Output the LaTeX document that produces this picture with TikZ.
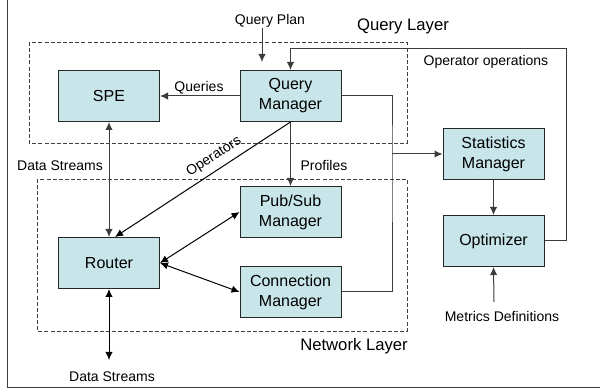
\documentclass[tikz,border=0pt]{standalone}
\usepackage{fontspec}
\setmainfont{Liberation Sans}
\usetikzlibrary{arrows.meta}
\usetikzlibrary{calc}

\definecolor{boxfill}{RGB}{200,230,233}
\definecolor{linegray}{RGB}{60,60,60}

\begin{document}
\begin{tikzpicture}[x=0.75pt,y=0.75pt,yscale=-1,xscale=1,
  block/.style={draw=black!85, fill=boxfill, line width=0.75pt, minimum width=75.75pt, minimum height=38.25pt, align=center, inner sep=0.75pt, font=\fontsize{12}{15}\selectfont},
  layer/.style={draw=black!75, dash pattern=on 3pt off 1.6pt, line width=0.6pt},
  lbl/.style={inner sep=0.75pt, font=\fontsize{10.5}{12}\selectfont},
  laylbl/.style={inner sep=0.75pt, font=\fontsize{12.5}{15}\selectfont},
  conn/.style={draw=linegray, line width=0.75pt},
  arr/.style={conn, -{Latex[length=6pt,width=5.5pt]}},
  darr/.style={conn, {Latex[length=6pt,width=5.5pt]}-{Latex[length=6pt,width=5.5pt]}}]
\useasboundingbox (0,0) rectangle (600,391);

%Shape: Frame
\draw [linegray, line width=0.75pt] (7.5,0) -- (7.5,388) -- (600,388) ;

%Shape: Query Layer
\draw [layer] (29,42) rectangle (407,143) ;
%Shape: Network Layer
\draw [layer] (37,179) rectangle (407,331) ;

%Blocks
\node [block] (spe) at (109,96) {SPE};
\node [block] (qm) at (290.5,96) {Query\\Manager};
\node [block] (ps) at (290.5,212) {Pub/Sub\\Manager};
\node [block] (cm) at (290.5,292) {Connection\\Manager};
\node [block] (router) at (109,263) {Router};
\node [block] (sm) at (493.5,154) {Statistics\\Manager};
\node [block] (opt) at (493.5,241) {Optimizer};

%Free ends
\coordinate (qplan) at (262,28);
\coordinate (qplanend) at (262,62);
\coordinate (opsturn) at (566,49);
\coordinate (junc) at (392,154);
\coordinate (dsend) at (109,360);
\coordinate (metr) at (494,302);

%Straight Lines
\draw [arr] (qplan) -- (qplanend) ;
\draw [arr] (opt.east) -| (opsturn) -| (qm.north) ;
\draw [arr] (qm.west) -- (spe.east) ;
\draw [arr] (qm.south) -- (ps.north) ;
\draw [conn] (qm.east) -| (junc) |- (cm.east) ;
\draw [arr] (junc) -- (sm.west) ;
\draw [arr] (sm.south) -- (opt.north) ;
\draw [arr] (metr) -- (opt.south) ;
\draw [darr] (spe.south) -- (router.north) ;
\draw [arr, draw=black] (qm.south) -- ([xshift=4.5pt]router.north) ;
\draw [darr, draw=black] (router.east) -- (ps.west) ;
\draw [darr, draw=black] (router.east) -- (cm.west) ;
\draw [darr, draw=black] (router.south) -- (dsend) ;

% Text Node
\node [lbl] (qplanlbl) at (270,21) {Query Plan};
% Text Node
\node [laylbl] (qlayer) at (403,26) {Query Layer};
% Text Node
\node [laylbl] (nlayer) at (354,346) {Network Layer};
% Text Node
\node [lbl] (queries) at (199,88) {Queries};
% Text Node
\node [lbl] (profiles) at (324,166) {Profiles};
% Text Node
\node [lbl, rotate=33] (operators) at (214,157) {Operators};
% Text Node
\node [lbl] (dstop) at (60,166) {Data Streams};
% Text Node
\node [lbl] (dsbot) at (112,377) {Data Streams};
% Text Node
\node [lbl] (opsops) at (486,62) {Operator operations};
% Text Node
\node [lbl] (metrics) at (502,316) {Metrics Definitions};

\end{tikzpicture}
\end{document}
